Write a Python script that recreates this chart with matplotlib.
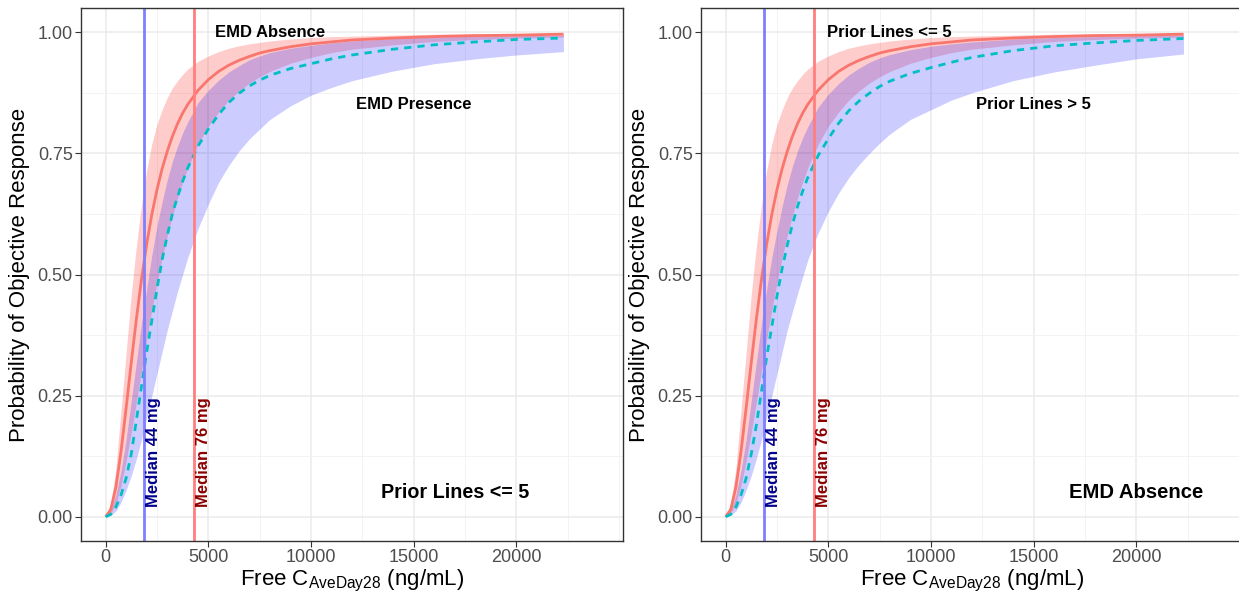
import matplotlib
matplotlib.use("Agg")
import matplotlib.pyplot as plt
from matplotlib.ticker import MultipleLocator

plt.rcParams['font.family'] = ['Liberation Sans', 'DejaVu Sans']
plt.rcParams['mathtext.fontset'] = 'custom'
plt.rcParams['mathtext.rm'] = 'Liberation Sans'

# Free C_AveDay28 grid (ng/mL)
conc = [0, 250, 500, 750, 1000, 1250, 1500, 1750, 2000, 2250, 2500, 2750, 3000,
        3250, 3500, 3750, 4000, 4500, 5000, 5500, 6000, 6500, 7000, 7500, 8000,
        9000, 10000, 11000, 12000, 14000, 16000, 18000, 20000, 22300]

# Reference group: EMD absence, prior lines <= 5
ref_mid = [0, 0.015, 0.061, 0.135, 0.225, 0.319, 0.409, 0.491, 0.563, 0.624, 0.675,
           0.718, 0.754, 0.785, 0.811, 0.833, 0.851, 0.880, 0.902, 0.919, 0.932,
           0.942, 0.950, 0.957, 0.962, 0.970, 0.976, 0.980, 0.984, 0.988, 0.991,
           0.993, 0.994, 0.996]
ref_lo = [0, 0.007, 0.028, 0.065, 0.115, 0.174, 0.237, 0.302, 0.366, 0.427, 0.483,
          0.534, 0.580, 0.621, 0.658, 0.691, 0.720, 0.768, 0.806, 0.835, 0.860,
          0.879, 0.895, 0.908, 0.919, 0.936, 0.948, 0.958, 0.965, 0.974, 0.981,
          0.985, 0.988, 0.990]
ref_hi = [0, 0.028, 0.100, 0.220, 0.340, 0.460, 0.560, 0.645, 0.715, 0.770, 0.810,
          0.840, 0.865, 0.885, 0.900, 0.913, 0.924, 0.940, 0.951, 0.960, 0.967,
          0.972, 0.976, 0.979, 0.982, 0.986, 0.989, 0.991, 0.992, 0.994, 0.996,
          0.997, 0.997, 0.998]

# EMD presence, prior lines <= 5
emd_mid = [0, 0.005, 0.020, 0.045, 0.080, 0.130, 0.200, 0.270, 0.340, 0.405, 0.470,
           0.530, 0.580, 0.625, 0.660, 0.692, 0.720, 0.765, 0.800, 0.830, 0.855,
           0.874, 0.889, 0.901, 0.911, 0.925, 0.935, 0.945, 0.953, 0.965, 0.974,
           0.980, 0.985, 0.988]
emd_lo = [0, 0.003, 0.012, 0.030, 0.055, 0.085, 0.120, 0.160, 0.205, 0.250, 0.295,
          0.340, 0.385, 0.425, 0.465, 0.500, 0.535, 0.595, 0.645, 0.690, 0.725,
          0.755, 0.780, 0.800, 0.820, 0.848, 0.870, 0.886, 0.900, 0.920, 0.935,
          0.945, 0.953, 0.960]
emd_hi = [0, 0.012, 0.045, 0.095, 0.160, 0.240, 0.320, 0.400, 0.470, 0.540, 0.600,
          0.650, 0.695, 0.733, 0.765, 0.792, 0.815, 0.855, 0.880, 0.901, 0.918,
          0.931, 0.943, 0.951, 0.958, 0.967, 0.973, 0.978, 0.982, 0.987, 0.990,
          0.992, 0.993, 0.994]

# Prior lines > 5, EMD absence
pl_mid = [0, 0.005, 0.020, 0.045, 0.080, 0.130, 0.190, 0.260, 0.330, 0.393, 0.455,
          0.512, 0.560, 0.603, 0.640, 0.672, 0.700, 0.745, 0.780, 0.812, 0.838,
          0.858, 0.874, 0.888, 0.899, 0.915, 0.927, 0.938, 0.948, 0.962, 0.972,
          0.978, 0.983, 0.987]
pl_lo = [0, 0.003, 0.012, 0.030, 0.055, 0.085, 0.120, 0.160, 0.205, 0.250, 0.295,
         0.340, 0.385, 0.423, 0.460, 0.495, 0.530, 0.585, 0.630, 0.668, 0.700,
         0.727, 0.750, 0.771, 0.790, 0.820, 0.840, 0.860, 0.875, 0.900, 0.918,
         0.932, 0.945, 0.955]
pl_hi = [0, 0.012, 0.045, 0.095, 0.160, 0.240, 0.320, 0.400, 0.470, 0.535, 0.590,
         0.640, 0.685, 0.723, 0.755, 0.782, 0.805, 0.845, 0.872, 0.894, 0.912,
         0.926, 0.938, 0.947, 0.954, 0.964, 0.971, 0.976, 0.980, 0.986, 0.989,
         0.991, 0.993, 0.994]

# Median exposures by dose
median_conc = [1880, 4320]
median_labels = ["Median 44 mg", "Median 76 mg"]
median_line_colors = ["#7F7FFF", "#FF7F7F"]
median_text_colors = ["#00008B", "#8B0000"]

xticks = [0, 5000, 10000, 15000, 20000]
yticks = [0.0, 0.25, 0.5, 0.75, 1.0]

W, H = 1239, 594
fig = plt.figure(figsize=(W / 100, H / 100), dpi=100)

panels = [
    dict(rect=[81, 8, 623, 541], cmp=(emd_mid, emd_lo, emd_hi),
         top=("EMD Absence", 8000, 1.0), mid=("EMD Presence", 15000, 0.85),
         corner=("Prior Lines <= 5", 17000, 0.05, 14.2)),
    dict(rect=[701, 8, 1243, 541], cmp=(pl_mid, pl_lo, pl_hi),
         top=("Prior Lines <= 5", 7950, 1.0), mid=("Prior Lines > 5", 15000, 0.85),
         corner=("EMD Absence", 20000, 0.05, 14.6)),
]

for p in panels:
    x0, y0, x1, y1 = p["rect"]
    ax = fig.add_axes([x0 / W, 1 - y1 / H, (x1 - x0) / W, (y1 - y0) / H])
    ax.set_xlim(-1200, 25200)
    ax.set_ylim(-0.05, 1.05)

    ax.xaxis.set_minor_locator(MultipleLocator(2500))
    ax.yaxis.set_minor_locator(MultipleLocator(0.125))
    ax.set_xticks(xticks)
    ax.set_yticks(yticks)
    ax.set_xticklabels([str(v) for v in xticks])
    ax.set_yticklabels([f"{v:.2f}" for v in yticks])
    ax.grid(which="major", color="#EBEBEB", lw=1.1)
    ax.grid(which="minor", color="#F3F3F3", lw=0.7)
    ax.set_axisbelow(True)
    ax.tick_params(which="major", length=4, width=0.8, color="#333333",
                   labelsize=13, labelcolor="#4D4D4D", pad=2)
    ax.tick_params(which="minor", length=0)
    for s in ax.spines.values():
        s.set_color("#333333")
        s.set_linewidth(1.0)

    cmid, clo, chi = p["cmp"]
    ax.fill_between(conc, ref_lo, ref_hi, color="#FF0000", alpha=0.2, lw=0)
    ax.fill_between(conc, clo, chi, color="#0000FF", alpha=0.2, lw=0)
    ax.plot(conc, ref_mid, color="#F8766D", lw=2.0, solid_capstyle="butt")
    ax.plot(conc, cmid, color="#00BFC4", lw=2.0, ls=(0, (2.6, 2.2)))

    for xc, lab, lc, tc in zip(median_conc, median_labels,
                               median_line_colors, median_text_colors):
        ax.axvline(xc, color=lc, lw=2.0)
        ax.text(xc + 430, 0.02, lab, rotation=90, ha="center", va="bottom",
                color=tc, fontsize=12, fontweight="bold")

    t, tx, ty = p["top"]
    ax.text(tx, ty, t, ha="center", va="center", fontsize=12, fontweight="bold")
    t, tx, ty = p["mid"]
    ax.text(tx, ty, t, ha="center", va="center", fontsize=12, fontweight="bold")
    t, tx, ty, fs = p["corner"]
    ax.text(tx, ty, t, ha="center", va="center", fontsize=fs, fontweight="bold")

    ax.set_ylabel("Probability of Objective Response", fontsize=16, labelpad=5)
    ax.set_xlabel(r"Free C$_{\mathregular{AveDay28}}$ (ng/mL)", fontsize=16,
                  labelpad=1)

fig.savefig("out.png", dpi=100)
